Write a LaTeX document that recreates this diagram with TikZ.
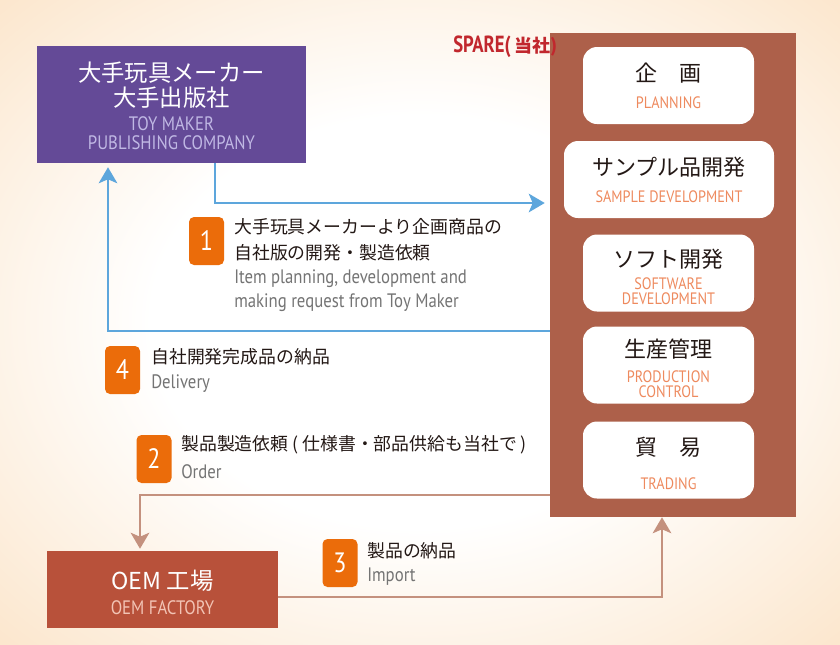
\documentclass[tikz,border=0pt]{standalone}
\usepackage{fontspec}
\usepackage{tikz}
\usetikzlibrary{arrows.meta}
\setmainfont{PT Sans}
\newfontfamily\jpf{Noto Sans CJK JP}
\newfontfamily\enf[FakeStretch=0.86]{PT Sans}
\newfontfamily\spf[FakeStretch=0.8]{PT Sans}
\definecolor{bgorange}{HTML}{F5BE80}
\definecolor{bgmid}{HTML}{F9D4A8}
\definecolor{tmpurple}{HTML}{644A97}
\definecolor{tmlilac}{HTML}{C0B8E4}
\definecolor{lineblue}{HTML}{5DA6DC}
\definecolor{panelbrown}{HTML}{AD604A}
\definecolor{salmon}{HTML}{EE8A5E}
\definecolor{sparered}{HTML}{C1272D}
\definecolor{badgeorange}{HTML}{EB6C0A}
\definecolor{greytext}{HTML}{747474}
\definecolor{darktext}{HTML}{231815}
\definecolor{linebrown}{HTML}{C4917E}
\definecolor{oemred}{HTML}{B8513A}
\definecolor{oempink}{HTML}{F2C4B5}
\pgfdeclareradialshading{bgglow}{\pgfpoint{0bp}{0bp}}{color(0bp)=(white); color(16bp)=(white); color(50bp)=(bgmid); color(72bp)=(bgorange)}

\begin{document}
\begin{tikzpicture}[x=0.75pt,y=0.75pt,yscale=-1,xscale=1,
    panelbox/.style={fill=white, rounded corners=10.5pt, minimum width=128.25pt, minimum height=57.75pt, inner sep=0pt},
    badge/.style={fill=badgeorange, rounded corners=3.75pt, minimum width=26.25pt, minimum height=36pt, inner sep=0pt, text=white, font=\enf\fontsize{21}{21}\selectfont},
    jptext/.style={font=\jpf\fontsize{13.4}{16}\selectfont, text=darktext, anchor=west, inner sep=0pt},
    entext/.style={font=\enf\fontsize{14.6}{15}\selectfont, text=greytext, anchor=west, inner sep=0pt},
    boxjp/.style={font=\jpf\fontsize{16.5}{18}\selectfont, text=darktext, inner sep=0pt},
    boxen/.style={font=\enf\fontsize{12.4}{11.2}\selectfont, text=salmon, inner sep=0pt, align=center},
    bluearrow/.style={draw=lineblue, line width=1.5pt, -{Stealth[length=12pt,width=14pt,inset=3pt]}},
    brownarrow/.style={draw=linebrown, line width=1.5pt, -{Stealth[length=12pt,width=14pt,inset=3pt]}}]
        \useasboundingbox (0,0) rectangle (840,644);
        % background
        \shade[shading=bgglow] (0,0) rectangle (840,644);

        % Toy maker box
        \node[fill=tmpurple, minimum width=201.75pt, minimum height=87.75pt, inner sep=0pt] (toymaker) at (171.5,104.5) {};
        \node[font=\jpf\fontsize{17.5}{18}\selectfont, text=white, inner sep=0pt] (tmJPa) at (171.5,73) {大手玩具メーカー};
        \node[font=\jpf\fontsize{17.5}{18}\selectfont, text=white, inner sep=0pt] (tmJPb) at (171.5,98) {大手出版社};
        \node[font=\enf\fontsize{14.6}{14}\selectfont, text=tmlilac, inner sep=0pt] (tmENa) at (171.5,124) {TOY MAKER};
        \node[font=\enf\fontsize{14.6}{14}\selectfont, text=tmlilac, inner sep=0pt] (tmENb) at (171.5,143) {PUBLISHING COMPANY};

        % SPARE panel
        \node[fill=panelbrown, minimum width=184.5pt, minimum height=363pt, inner sep=0pt] (spare) at (673,275) {};
        \node[text=sparered, anchor=west, inner sep=0pt] (spareName) at (453,47)
            {\spf\bfseries\fontsize{17.5}{17}\selectfont SPARE(\,\jpf\bfseries\fontsize{13.5}{14}\selectfont 当社)};

        \node[panelbox] (planning) at (668.5,85.5) {};
        \node[boxjp] (planJP) at (668.5,73) {企　画};
        \node[boxen] (planEN) at (668.5,103) {PLANNING};

        \node[panelbox, minimum width=157.5pt] (sample) at (669,179.5) {};
        \node[boxjp] (sampJP) at (669,167) {サンプル品開発};
        \node[boxen] (sampEN) at (669,197) {SAMPLE DEVELOPMENT};

        \node[panelbox] (software) at (668.5,273) {};
        \node[boxjp] (softJP) at (668.5,259) {ソフト開発};
        \node[boxen] (softEN) at (668.5,291.5) {SOFTWARE\\DEVELOPMENT};

        \node[panelbox] (production) at (668.5,365) {};
        \node[boxjp] (prodJP) at (668.5,349) {生産管理};
        \node[boxen] (prodEN) at (668.5,384) {PRODUCTION\\CONTROL};

        \node[panelbox] (trading) at (668.5,460) {};
        \node[boxjp] (tradJP) at (668.5,447) {貿　易};
        \node[boxen] (tradEN) at (668.5,484) {TRADING};

        % OEM factory box
        \node[fill=oemred, minimum width=173.25pt, minimum height=57.75pt, inner sep=0pt] (oem) at (162.5,589.5) {};
        \node[font=\jpf\fontsize{17.5}{18}\selectfont, text=white, inner sep=0pt] (oemJP) at (162.5,581) {OEM 工場};
        \node[font=\enf\fontsize{14.6}{14}\selectfont, text=oempink, inner sep=0pt] (oemEN) at (162.5,608) {OEM FACTORY};

        % Connectors
        \coordinate (reqTurn) at (215,203);
        \coordinate (delTurn) at (108,331);
        \coordinate (ordTurn) at (140,495);
        \coordinate (impTurn) at (662,597);
        \draw[bluearrow, shorten >=3.75pt] (toymaker.south -| reqTurn) -- (reqTurn) -- (reqTurn -| spare.west);
        \draw[bluearrow, shorten >=3pt] (delTurn -| spare.west) -- (delTurn) -- (delTurn |- toymaker.south);
        \draw[brownarrow, shorten >=1.5pt] (ordTurn -| spare.west) -- (ordTurn) -- (ordTurn |- oem.north);
        \draw[brownarrow] (oem.east |- impTurn) -- (impTurn) -- (impTurn |- spare.south);

        % Step 1
        \node[badge] (stepA) at (206.5,241) {1};
        \node[jptext] (reqJPa) at (234,227) {大手玩具メーカーより企画商品の};
        \node[jptext] (reqJPb) at (234,253) {自社版の開発・製造依頼};
        \node[entext] (reqENa) at (234,279) {Item planning, development and};
        \node[entext] (reqENb) at (234,303) {making request from Toy Maker};
        % Step 4
        \node[badge] (stepD) at (122.5,370) {4};
        \node[jptext] (delJP) at (151,357) {自社開発完成品の納品};
        \node[entext] (delEN) at (151,384) {Delivery};
        % Step 2
        \node[badge] (stepB) at (154,459) {2};
        \node[jptext] (ordJP) at (181,445) {製品製造依頼 ( 仕様書・部品供給も当社で )};
        \node[entext] (ordEN) at (181,472) {Order};
        % Step 3
        \node[badge] (stepC) at (340,563) {3};
        \node[jptext] (impJP) at (367,551) {製品の納品};
        \node[entext] (impEN) at (367,577) {Import};
\end{tikzpicture}
\end{document}
